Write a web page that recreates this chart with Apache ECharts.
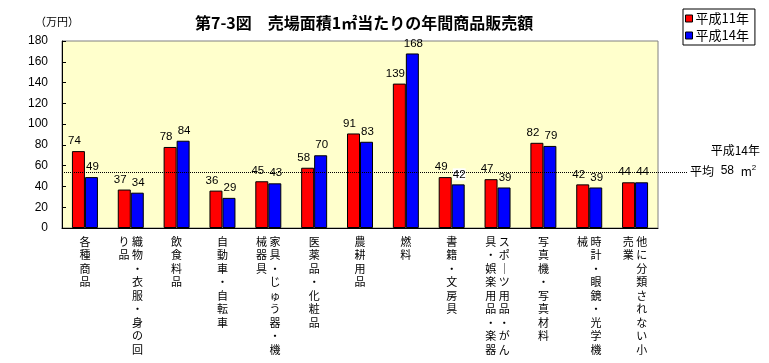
<!DOCTYPE html>
<html><head><meta charset="utf-8">
<script src="https://cdn.jsdelivr.net/npm/echarts@6/dist/echarts.min.js"></script>
<style>html,body{margin:0;padding:0;background:#fff}#c{width:769px;height:363px}</style>
</head><body><div id="c"></div>
<script>
const categories = ['各種商品','織物・衣服・身の回り品','飲食料品','自動車・自転車','家具・じゅう器・機械器具','医薬品・化粧品','農耕用品','燃料','書籍・文房具','スポ｜ツ用品・がん具・娯楽用品・楽器','写真機・写真材料','時計・眼鏡・光学機械','他に分類されない小売業'];
const seriesNames = ['平成11年','平成14年'];
const valuesH11 = [74,37,78,36,45,58,91,139,49,47,82,42,44];
const valuesH14 = [49,34,84,29,43,70,83,168,42,39,79,39,44];
const yTicks = {min:0, max:180, interval:20};
const avgLineLevel = 54;
const avgValue = 58;
const avgYear = '平成14年';
const unitLabel = '（万円）';
const titleText = '第7-3図　売場面積1㎡当たりの年間商品販売額';

const FONT = '"Noto Sans CJK JP", sans-serif';
const NUMFONT = '"Liberation Sans", sans-serif';

function verticalLabel(s){
  const chars = Array.from(s);
  const n = 9;
  const c1 = chars.slice(0,n), c2 = chars.slice(n);
  const lines = [];
  for (let i=0;i<c1.length;i++){
    if (c2.length) lines.push((c2[i]||'　') + ' ' + c1[i]);
    else lines.push(c1[i]);
  }
  return lines.join('\n');
}

const chart = echarts.init(document.getElementById('c'));
const h14Data = valuesH14.map((v,i)=> i===8 ? {value:v, label:{backgroundColor:'#fff', padding:[0,0,0,0]}} : v);
const barLabel = {show:true, position:'top', distance:4, fontSize:11.5, color:'#000', fontFamily:NUMFONT};
chart.setOption({
  animation:false,
  textStyle:{fontFamily:FONT},
  title:{text:titleText, left:190, top:10, textStyle:{fontSize:16, fontWeight:'bold', color:'#000', fontFamily:FONT}},
  legend:{
    data:seriesNames, orient:'vertical', left:683, top:9, icon:'rect',
    itemWidth:7, itemHeight:7, itemGap:4, padding:[3,6,3,2],
    borderColor:'#000', borderWidth:1, backgroundColor:'#fff',
    textStyle:{fontSize:13, color:'#000', fontFamily:FONT, padding:[0,0,0,-2]},
    itemStyle:{borderColor:'#000', borderWidth:1}
  },
  grid:{left:62, top:41, width:596, height:187, show:true, backgroundColor:'#ffffcc', borderColor:'#808080', borderWidth:1},
  xAxis:{
    type:'category', data:categories,
    axisLine:{lineStyle:{color:'#000'}},
    axisTick:{show:false},
    axisLabel:{interval:0, formatter:verticalLabel, fontSize:11, lineHeight:13.5, color:'#000', margin:7, verticalAlign:'top'}
  },
  yAxis:{
    type:'value', min:yTicks.min, max:yTicks.max, interval:yTicks.interval,
    name:unitLabel, nameLocation:'end', nameGap:14, nameTextStyle:{fontSize:11, color:'#000', align:'center', padding:[0,0,0,-10]},
    axisLine:{show:true, lineStyle:{color:'#000'}},
    axisTick:{show:true, inside:true, length:4, lineStyle:{color:'#000'}},
    splitLine:{show:false},
    axisLabel:{fontSize:12, color:'#000', margin:14, fontFamily:NUMFONT}
  },
  series:[
    {name:seriesNames[0], type:'bar', data:valuesH11, barWidth:13, barGap:'0%', z:3,
     itemStyle:{color:'#ff0000', borderColor:'#000', borderWidth:1},
     label:Object.assign({}, barLabel, {offset:[-4,0]}),
     markLine:{
       silent:true, symbol:'none', label:{show:false},
       lineStyle:{type:'dotted', color:'#000', width:1},
       data:[[{yAxis:avgLineLevel, x:62},{yAxis:avgLineLevel, x:688}]]
     }
    },
    {name:seriesNames[1], type:'bar', data:h14Data, barWidth:13,
     itemStyle:{color:'#0000ff', borderColor:'#000', borderWidth:1},
     label:Object.assign({}, barLabel, {offset:[1,0]})
    }
  ],
  graphic:[
    {type:'text', right:9, top:144, style:{text:avgYear, font:'12px '+FONT, fill:'#000'}},
    {type:'text', left:690, top:164, style:{
      text:'{a|平均}  {n|' + avgValue + '}  {a|m}{s|2}',
      rich:{a:{font:'12px '+FONT, fill:'#000'}, n:{font:'12px '+NUMFONT, fill:'#000'}, s:{font:'8px '+NUMFONT, fill:'#000', verticalAlign:'top', padding:[0,0,6,0]}}
    }}
  ]
});
</script></body></html>
